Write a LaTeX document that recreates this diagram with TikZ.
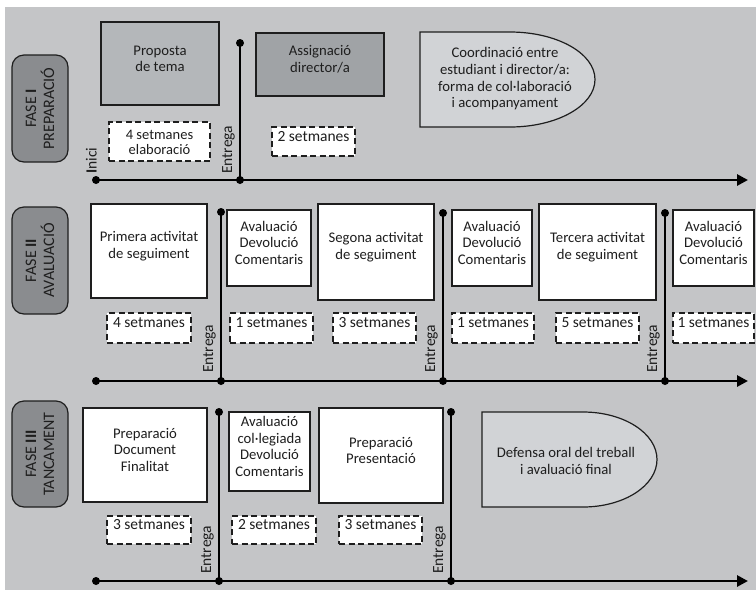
\documentclass[tikz,border=0pt]{standalone}
\usepackage{fontspec}
\setmainfont{Carlito}
\usetikzlibrary{arrows.meta,fit}
\definecolor{bg}{RGB}{196,197,199}
\definecolor{phasefill}{RGB}{138,140,143}
\definecolor{grayA}{RGB}{180,183,186}
\definecolor{grayB}{RGB}{160,163,166}
\definecolor{grayC}{RGB}{209,211,214}
\definecolor{ink}{RGB}{30,30,30}
\tikzset{
  base/.style={inner sep=0pt, align=center, text=ink},
  phasebox/.style={base, draw=ink, line width=1.2pt, fill=phasefill, rounded corners=12pt},
  whitebox/.style={base, draw=ink, line width=1.2pt, fill=white},
  greyboxA/.style={base, draw=ink, line width=1.2pt, fill=grayA},
  greyboxB/.style={base, draw=ink, line width=1.2pt, fill=grayB},
  dashbox/.style={base, draw=ink, line width=1.4pt, fill=white, dash pattern=on 6pt off 3.5pt, font=\fontsize{15.5}{15}\selectfont},
  tline/.style={line width=2.8pt, draw=black},
  tarrow/.style={tline, -{Triangle[length=11pt,width=11pt]}},
  dotc/.style={circle, fill=black, inner sep=0pt, minimum size=8pt},
  vlab/.style={rotate=90, anchor=south west, inner sep=1pt, text=ink, font=\fontsize{15.5}{17}\selectfont},
  phlab/.style={rotate=90, align=center, text=ink, font=\fontsize{16}{18}\selectfont},
  roundshape/.style={draw=ink, line width=1.2pt, fill=grayC}
}
\newcommand\bx[7]{\node[#1, fit={(#3,#4) (#5,#6)}] (#2) {#7};}
\begin{document}
\begin{tikzpicture}[x=1pt,y=-1pt, font=\fontsize{14.7}{16.7}\selectfont]
\useasboundingbox (0,0) rectangle (756,590);
\fill[bg] (5,7) rectangle (756,590);

% ---------------- Phase labels
\bx{phasebox}{ph1}{12}{55}{68}{162}{}
\bx{phasebox}{ph2}{12}{207}{68}{314}{}
\bx{phasebox}{ph3}{12}{401}{68}{507}{}
\node[phlab] (ph1t) at (ph1.center) {FASE \textbf{I}\\PREPARACIÓ};
\node[phlab] (ph2t) at (ph2.center) {FASE \textbf{II}\\AVALUACIÓ};
\node[phlab] (ph3t) at (ph3.center) {FASE \textbf{III}\\TANCAMENT};

% ---------------- Row I
\coordinate (t1s) at (96,180);
\coordinate (t1e) at (748,180);
\coordinate (v1t) at (240,43);
\coordinate (v1b) at (240,180);
\draw[tarrow] (t1s) -- (t1e);
\draw[tline] (v1t) -- (v1b);
\node[dotc] (d1a) at (t1s) {};
\node[dotc] (d1b) at (v1t) {};
\node[dotc] (d1c) at (v1b) {};

\bx{greyboxA}{prop}{101}{22}{219}{105}{Proposta\\de tema}
\bx{greyboxB}{assig}{256}{33}{384}{96}{Assignació\\director/a}
\draw[roundshape] (420,127) -- (420,32) -- (510,32)
   arc[start angle=90, end angle=-90, x radius=85pt, y radius=47.5pt] -- cycle;
\node[base] (coord) at (505,79) {Coordinació entre\\estudiant i director/a:\\forma de col·laboració\\i acompanyament};
\bx{dashbox}{s1a}{109}{122}{210}{161}{}
\node[base, font=\fontsize{14.5}{14.5}\selectfont] (s1at) at ([yshift=-1pt]s1a.center) {4 setmanes\\elaboració};
\bx{dashbox}{s1b}{272}{127}{355}{156}{2 setmanes}
\node[vlab] (inici) at (98,175) {\textbf{I}nici};
\node[vlab] (ent1) at (236,175) {Entrega};

% ---------------- Row II
\coordinate (t2s) at (96,381);
\coordinate (t2e) at (748,381);
\coordinate (v2at) at (221,212);
\coordinate (v2ab) at (221,381);
\coordinate (v2bt) at (443,213);
\coordinate (v2bb) at (443,381);
\coordinate (v2ct) at (665,213);
\coordinate (v2cb) at (665,381);
\draw[tarrow] (t2s) -- (t2e);
\draw[tline] (v2at) -- (v2ab);
\draw[tline] (v2bt) -- (v2bb);
\draw[tline] (v2ct) -- (v2cb);
\node[dotc] (d2s) at (t2s) {};
\node[dotc] (d2a1) at (v2at) {};
\node[dotc] (d2a2) at (v2ab) {};
\node[dotc] (d2b1) at (v2bt) {};
\node[dotc] (d2b2) at (v2bb) {};
\node[dotc] (d2c1) at (v2ct) {};
\node[dotc] (d2c2) at (v2cb) {};

\bx{whitebox}{prim}{91}{204}{207}{298}{Primera activitat\\de seguiment}
\bx{whitebox}{av1}{227}{210}{311}{286}{Avaluació\\Devolució\\Comentaris}
\bx{whitebox}{seg}{318}{204}{434}{300}{Segona activitat\\de seguiment}
\bx{whitebox}{av2}{452}{210}{532}{286}{Avaluació\\Devolució\\Comentaris}
\bx{whitebox}{ter}{539}{204}{656}{300}{Tercera activitat\\de seguiment}
\bx{whitebox}{av3}{673}{210}{754}{286}{Avaluació\\Devolució\\Comentaris}
\bx{dashbox}{s2a}{107}{313}{191}{343}{4 setmanes}
\bx{dashbox}{s2b}{230}{313}{313}{343}{1 setmanes}
\bx{dashbox}{s2c}{333}{313}{416}{343}{3 setmanes}
\bx{dashbox}{s2d}{452}{313}{534}{343}{1 setmanes}
\bx{dashbox}{s2e}{556}{313}{639}{343}{5 setmanes}
\bx{dashbox}{s2f}{673}{313}{754}{343}{1 setmanes}
\node[vlab] (ent2a) at (217,374) {Entrega};
\node[vlab] (ent2b) at (439,374) {Entrega};
\node[vlab] (ent2c) at (661,374) {Entrega};

% ---------------- Row III
\coordinate (t3s) at (96,581);
\coordinate (t3e) at (748,581);
\coordinate (v3at) at (219,412);
\coordinate (v3ab) at (219,581);
\coordinate (v3bt) at (451,412);
\coordinate (v3bb) at (451,581);
\draw[tarrow] (t3s) -- (t3e);
\draw[tline] (v3at) -- (v3ab);
\draw[tline] (v3bt) -- (v3bb);
\node[dotc] (d3s) at (t3s) {};
\node[dotc] (d3a1) at (v3at) {};
\node[dotc] (d3a2) at (v3ab) {};
\node[dotc] (d3b1) at (v3bt) {};
\node[dotc] (d3b2) at (v3bb) {};

\bx{whitebox}{prepdoc}{83}{408}{207}{502}{Preparació\\Document\\Finalitat}
\bx{whitebox}{avcol}{229}{412}{310}{491}{Avaluació\\col·legiada\\Devolució\\Comentaris}
\bx{whitebox}{preppres}{319}{408}{443}{503}{Preparació\\Presentació}
\draw[roundshape] (482,507) -- (482,412) -- (583,412)
   arc[start angle=90, end angle=-90, x radius=74pt, y radius=47.5pt] -- cycle;
\node[base] (defensa) at (566,461) {Defensa oral del treball\\i avaluació final};
\bx{dashbox}{s3a}{107}{516}{191}{544}{3 setmanes}
\bx{dashbox}{s3b}{232}{516}{316}{544}{2 setmanes}
\bx{dashbox}{s3c}{339}{516}{422}{544}{3 setmanes}
\node[vlab] (ent3a) at (215,575) {Entrega};
\node[vlab] (ent3b) at (447,575) {Entrega};
\end{tikzpicture}
\end{document}
